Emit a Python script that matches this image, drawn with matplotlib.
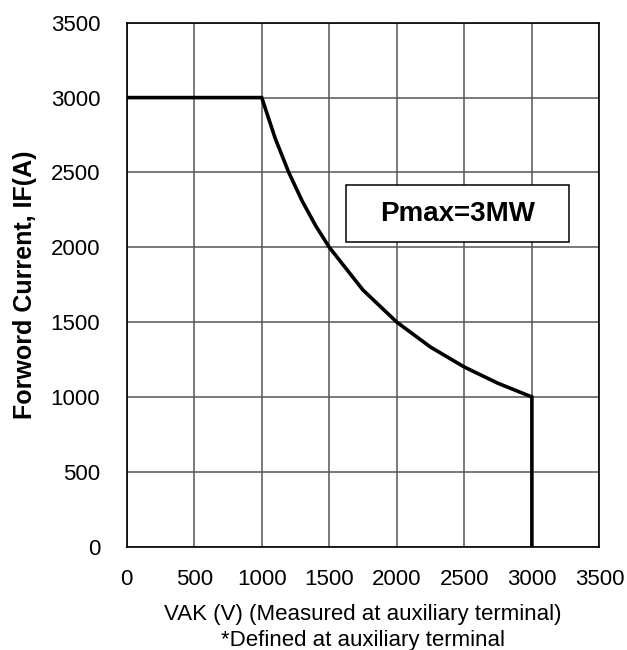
import matplotlib
matplotlib.use('Agg')
import matplotlib.pyplot as plt
from matplotlib.patches import Rectangle

plt.rcParams['font.family'] = ['Liberation Sans', 'DejaVu Sans']

# safe operating curve: flat at 3000 A, then P = 3 MW hyperbola, then drop at 3000 V
vak = [0, 1000, 1100, 1200, 1300, 1400, 1500, 1750, 2000, 2250, 2500, 2750, 3000, 3000]
i_f = [3000, 3000, 2727, 2500, 2308, 2143, 2000, 1714, 1500, 1333, 1200, 1091, 1000, 0]

ticks = [0, 500, 1000, 1500, 2000, 2500, 3000, 3500]

fig = plt.figure(figsize=(6.27, 6.5), dpi=100)
ax = fig.add_axes([0.202, 0.159, 0.754, 0.806])

ax.plot(vak, i_f, color='black', linewidth=2.6, solid_joinstyle='miter', zorder=3)

ax.set_xlim(0, 3500)
ax.set_ylim(0, 3500)
ax.set_xticks(ticks)
ax.set_yticks(ticks)
ax.tick_params(length=0, labelsize=16)
ax.tick_params(axis='x', pad=16)
ax.tick_params(axis='y', pad=19)
ax.grid(True, color='#555555', linewidth=1.1)
for s in ax.spines.values():
    s.set_linewidth(1.2)

ax.set_xlabel('VAK (V) (Measured at auxiliary terminal)\n*Defined at auxiliary terminal',
              fontsize=16, linespacing=1.3, labelpad=10)
ax.set_ylabel('Forword Current, IF(A)', fontsize=18, fontweight='bold', labelpad=10)

# Pmax annotation box
ax.add_patch(Rectangle((1627, 2035), 1650, 381, facecolor='white', edgecolor='black',
                       linewidth=1.1, zorder=4))
ax.text(2452, 2225, 'Pmax=3MW', fontsize=20, fontweight='bold', ha='center', va='center',
        zorder=5)

fig.savefig('out.png', dpi=100)
